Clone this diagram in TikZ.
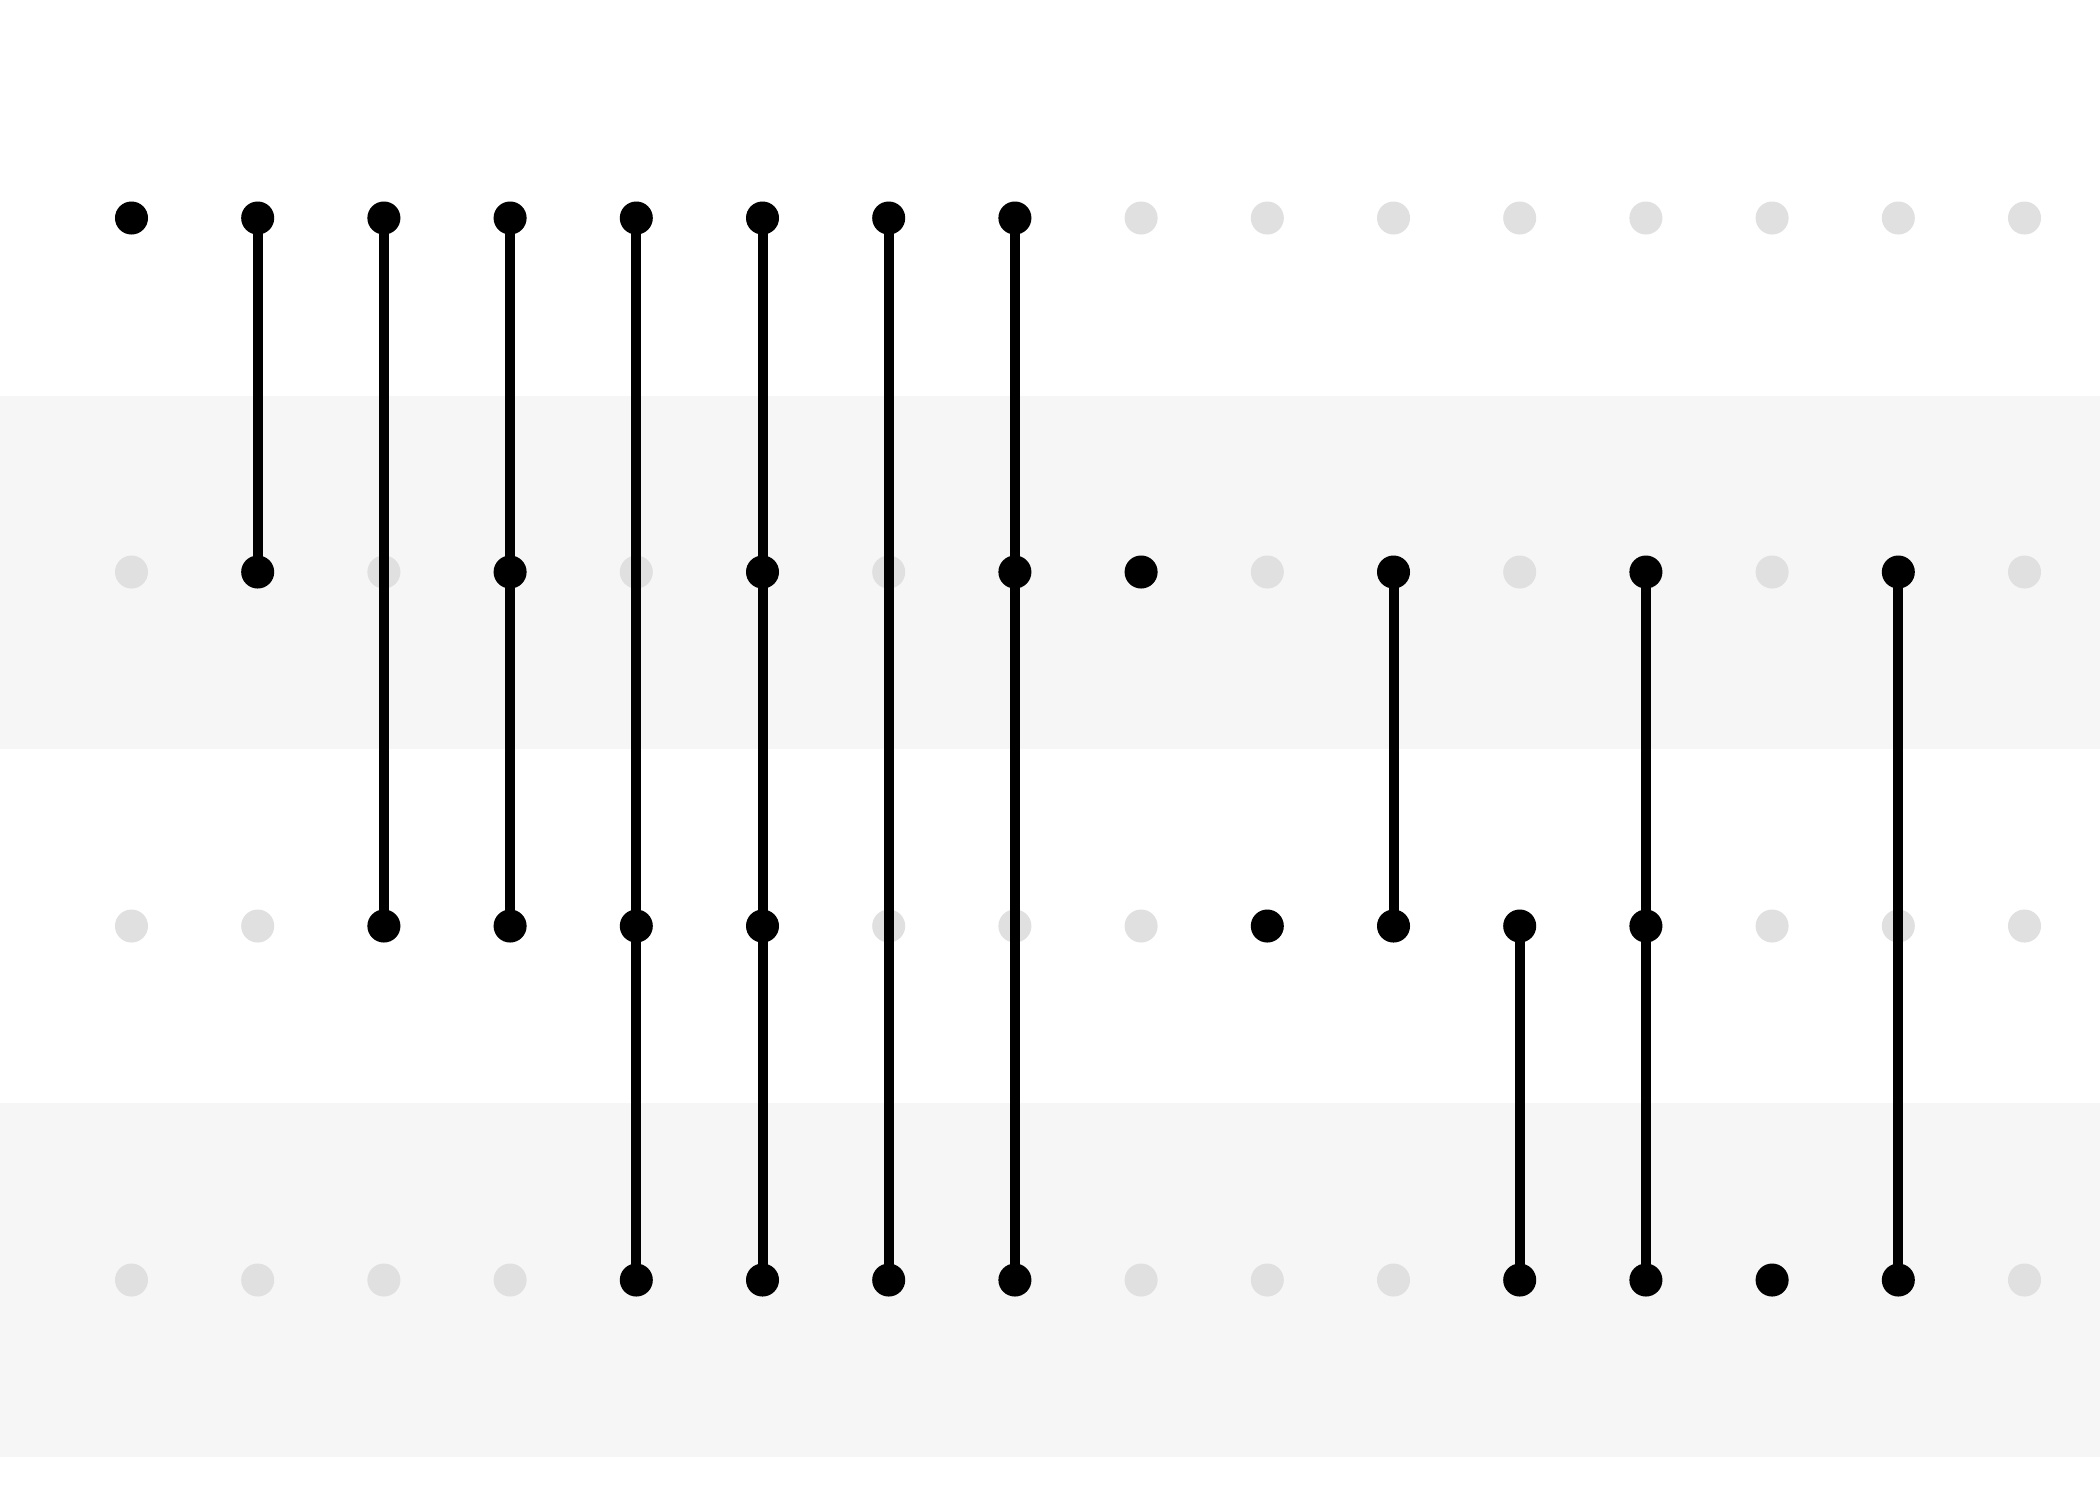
\documentclass[tikz,border=0pt]{standalone}
\definecolor{bandgray}{HTML}{F6F6F6}
\definecolor{dotgray}{HTML}{E0E0E0}
\begin{document}
\begin{tikzpicture}[x=0.01cm,y=-0.01cm,
  dotoff/.style={circle,fill=dotgray,draw=none,inner sep=0pt,minimum size=0.33cm},
  doton/.style={circle,fill=black,draw=none,inner sep=0pt,minimum size=0.33cm},
  link/.style={draw=black,line width=0.1cm}]
\useasboundingbox (0,0) rectangle (2100,1499);
\fill[white] (0,0) rectangle (2100,1499);
\fill[bandgray] (0,396) rectangle (2100,749);
\fill[bandgray] (0,1103) rectangle (2100,1457);
% light dots everywhere
\foreach \c in {1,...,16}{
  \foreach \r/\y in {1/218,2/572,3/926,4/1280}{
    \node[dotoff] (g-\c-\r) at ({131.5+126.2*(\c-1)},\y) {};
  }
}
% active dots
\foreach \c/\r in {1/1,2/1,2/2,3/1,3/3,4/1,4/2,4/3,5/1,5/3,5/4,6/1,6/2,6/3,6/4,7/1,7/4,8/1,8/2,8/4,9/2,10/3,11/2,11/3,12/3,12/4,13/2,13/3,13/4,14/4,15/2,15/4}{
  \node[doton] (b-\c-\r) at (g-\c-\r.center) {};
}
% connectors
\foreach \c/\a/\b in {2/1/2,3/1/3,4/1/3,5/1/4,6/1/4,7/1/4,8/1/4,11/2/3,12/3/4,13/2/4,15/2/4}{
  \draw[link] (b-\c-\a.center) -- (b-\c-\b.center);
}
\end{tikzpicture}
\end{document}
